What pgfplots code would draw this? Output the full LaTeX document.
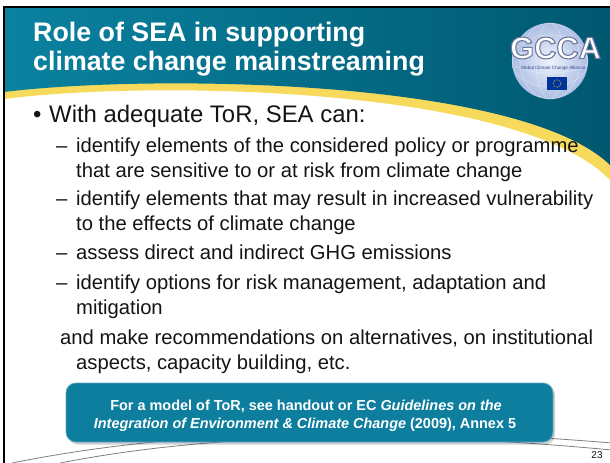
\documentclass[border=0pt]{standalone}
\usepackage{pgfplots}
\pgfplotsset{compat=1.18}
\usepackage{fontspec}
\setmainfont{Liberation Sans}
\definecolor{teal1}{RGB}{10,130,160}
\definecolor{teal2}{RGB}{0,88,112}
\definecolor{ylw}{RGB}{247,218,92}
\definecolor{boxc}{RGB}{14,126,158}
\definecolor{boxe}{RGB}{90,165,190}
\definecolor{txt}{RGB}{20,20,20}
\definecolor{sphin}{RGB}{238,242,252}
\definecolor{sphout}{RGB}{172,190,226}
\definecolor{gsmall}{RGB}{60,70,150}
\definecolor{eublue}{RGB}{0,51,153}
\begin{document}
\begin{tikzpicture}
\begin{axis}[width=610bp,height=462bp,scale only axis,hide axis,
  xmin=0,xmax=610,ymin=0,ymax=462,y dir=reverse,clip=false]
\fill[white] (axis cs:0,0) rectangle (axis cs:610,462);
% yellow band and header
\fill[ylw] (axis cs:4,7) -- (axis cs:610,7) -- (axis cs:610,180) .. controls (axis cs:520,86) and (axis cs:150,80) .. (axis cs:4,99) -- cycle;
\shade[left color=teal1,right color=teal2] (axis cs:4,7) -- (axis cs:610,7) -- (axis cs:610,165) .. controls (axis cs:520,78) and (axis cs:150,74) .. (axis cs:4,92) -- cycle;
% frame
\draw[black,line width=2.2bp] (axis cs:4,470) -- (axis cs:4,7) -- (axis cs:615,7);
% logo
\shade[inner color=sphin,outer color=sphout] (axis cs:550,61) circle[radius=38bp];
\draw[white,opacity=0.5,line width=0.4bp] (axis cs:550,61) ellipse[x radius=14bp,y radius=38bp];
\draw[white,opacity=0.5,line width=0.4bp] (axis cs:550,61) ellipse[x radius=30bp,y radius=38bp];
\draw[white,opacity=0.5,line width=0.4bp] (axis cs:550,61) ellipse[x radius=38bp,y radius=12bp];
\draw[white,opacity=0.5,line width=0.4bp] (axis cs:550,61) ellipse[x radius=38bp,y radius=26bp];
\node[inner sep=0,font=\bfseries\fontsize{31}{31}\selectfont,text=white] at (axis cs:555.5,48) {\special{pdf:literal direct 2 Tr 1.1 w 0.43 0.47 0.63 RG}GCCA\special{pdf:literal direct 0 Tr}};
\node[inner sep=0,font=\fontsize{4.6}{5}\selectfont,text=gsmall] at (axis cs:553,68.5) {Global Climate Change Alliance};
\fill[eublue] (axis cs:547,77) rectangle (axis cs:567,90);
\draw[yellow,densely dotted,line width=0.6bp] (axis cs:557,83.5) circle[radius=3.8bp];
% title
\node[anchor=base west,inner sep=0,text=white,font=\bfseries\fontsize{26.9}{30}\selectfont] at (axis cs:33,41.5) {Role of SEA in supporting};
\node[anchor=base west,inner sep=0,text=white,font=\bfseries\fontsize{26.9}{30}\selectfont] at (axis cs:33,70) {climate change mainstreaming};
% body
\node[anchor=base west,inner sep=0,text=txt,font=\fontsize{24}{28}\selectfont] at (axis cs:33,122) {\textbullet};
\node[anchor=base west,inner sep=0,text=txt,font=\fontsize{24}{28}\selectfont] at (axis cs:49,122) {With adequate ToR, SEA can:};
\node[anchor=base west,inner sep=0,text=txt,font=\fontsize{20.3}{24}\selectfont] at (axis cs:56,152) {--};
\node[anchor=base west,inner sep=0,text=txt,font=\fontsize{20.3}{24}\selectfont] at (axis cs:56,205) {--};
\node[anchor=base west,inner sep=0,text=txt,font=\fontsize{20.3}{24}\selectfont] at (axis cs:56,259) {--};
\node[anchor=base west,inner sep=0,text=txt,font=\fontsize{20.3}{24}\selectfont] at (axis cs:56,289) {--};
\node[anchor=base west,inner sep=0,text=txt,font=\fontsize{20.3}{24}\selectfont] at (axis cs:76,152) {identify elements of the considered policy or programme};
\node[anchor=base west,inner sep=0,text=txt,font=\fontsize{20.3}{24}\selectfont] at (axis cs:76,177) {that are sensitive to or at risk from climate change};
\node[anchor=base west,inner sep=0,text=txt,font=\fontsize{20.3}{24}\selectfont] at (axis cs:76,205) {identify elements that may result in increased vulnerability};
\node[anchor=base west,inner sep=0,text=txt,font=\fontsize{20.3}{24}\selectfont] at (axis cs:76,230) {to the effects of climate change};
\node[anchor=base west,inner sep=0,text=txt,font=\fontsize{20.3}{24}\selectfont] at (axis cs:76,259) {assess direct and indirect GHG emissions};
\node[anchor=base west,inner sep=0,text=txt,font=\fontsize{20.3}{24}\selectfont] at (axis cs:76,289) {identify options for risk management, adaptation and};
\node[anchor=base west,inner sep=0,text=txt,font=\fontsize{20.3}{24}\selectfont] at (axis cs:76,314) {mitigation};
\node[anchor=base west,inner sep=0,text=txt,font=\fontsize{20.3}{24}\selectfont] at (axis cs:60,344) {and make recommendations on alternatives, on institutional};
\node[anchor=base west,inner sep=0,text=txt,font=\fontsize{20.3}{24}\selectfont] at (axis cs:76,369) {aspects, capacity building, etc.};
% bottom lines
\draw[gray,line width=0.8bp] (axis cs:12,463) .. controls (axis cs:200,425) and (axis cs:420,427) .. (axis cs:612,443);
\draw[gray,line width=0.8bp] (axis cs:60,463) .. controls (axis cs:230,430) and (axis cs:420,432) .. (axis cs:612,450);
% callout box
\fill[black,opacity=0.18,rounded corners=10bp] (axis cs:68,385) rectangle (axis cs:555,444.5);
\draw[draw=boxe,fill=boxc,line width=0.8bp,rounded corners=10bp] (axis cs:66,383) rectangle (axis cs:553,442);
\node[anchor=base,inner sep=0,text=white,font=\bfseries\fontsize{14.5}{17}\selectfont] at (axis cs:306,410) {For a model of ToR, see handout or EC \textit{Guidelines on the}};
\node[anchor=base,inner sep=0,text=white,font=\bfseries\fontsize{14.5}{17}\selectfont] at (axis cs:305,428) {\textit{Integration of Environment \& Climate Change} (2009), Annex 5};
% page number
\node[inner sep=0,text=txt,font=\fontsize{10}{12}\selectfont] at (axis cs:597,455) {23};
\end{axis}
\pgfresetboundingbox
\useasboundingbox (current axis.south west) rectangle (current axis.north east);
\end{tikzpicture}
\end{document}
